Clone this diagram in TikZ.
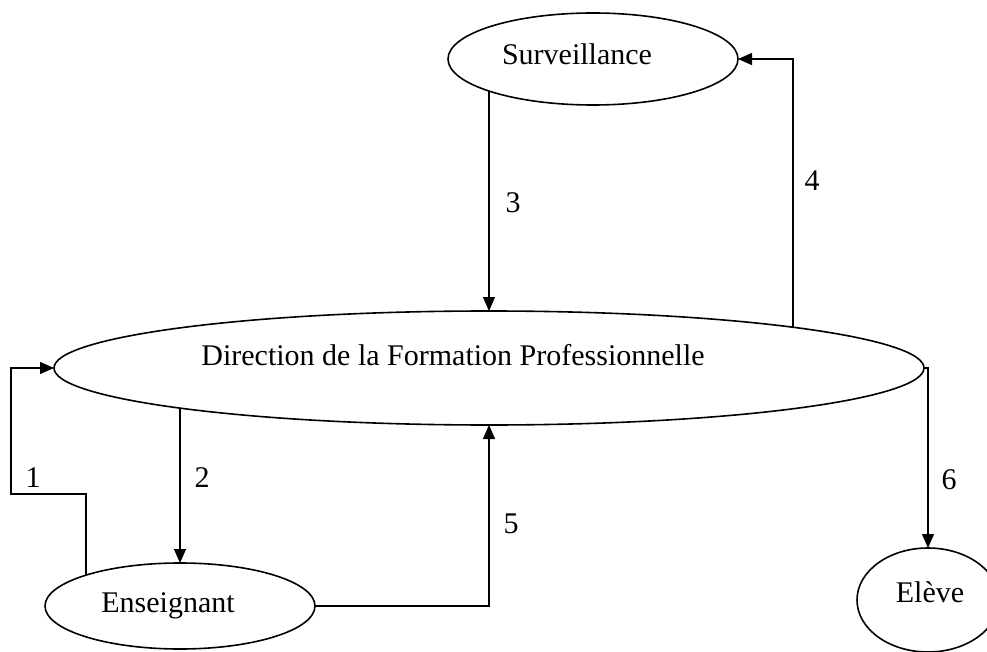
\documentclass[tikz,border=0pt]{standalone}
\usepackage{fontspec}
\setmainfont{Liberation Serif}
\usetikzlibrary{shapes.geometric,arrows.meta,calc}
\begin{document}
\begin{tikzpicture}[x=1pt,y=-1pt,
  entity/.style={ellipse,draw,line width=1.6pt,inner sep=0pt,outer sep=0pt},
  flow/.style={line width=1.3pt,-{Triangle[length=14pt,width=12pt]}},
  txt/.style={anchor=base,inner sep=0pt,font=\fontsize{30}{36}\selectfont},
]
\fill[white] (0,0) rectangle (987,652);
\useasboundingbox (0,0) rectangle (987,652);

% actors and the central service
\node[entity,minimum width=290pt,minimum height=92pt]  (sur) at (593,59)  {};
\node[entity,minimum width=870pt,minimum height=114pt] (dir) at (489,368) {};
\node[entity,minimum width=270pt,minimum height=86pt]  (ens) at (180,606) {};
\node[entity,minimum width=142pt,minimum height=104pt] (elv) at (928,600) {};

\node[txt] (surtxt) at (577,65)  {Surveillance};
\node[txt] (dirtxt) at (453,365) {Direction de la Formation Professionnelle};
\node[txt] (enstxt) at (168,612) {Enseignant};
\node[txt] (elvtxt) at (930,602) {Elève};

% information flows (start points lie exactly on the ellipse borders)
\coordinate (c1) at (11,494);
\draw[flow] ($(ens.center)+(-94,-30.9)$) |- (c1) |- (dir.west);
\draw[flow] ($(dir.center)+(-309,40.1)$) -- (ens.north);
\draw[flow] ($(sur.center)+(-104,32.1)$) -- (dir.north);
\draw[flow] ($(dir.center)+(304,-40.8)$) |- (sur.east);
\draw[flow] (ens.east) -| (dir.south);
\draw[flow] (dir.east) -| (elv.north);

% flow numbers
\node[txt] (n1) at (33,487)  {1};
\node[txt] (n2) at (202,487) {2};
\node[txt] (n3) at (513,213) {3};
\node[txt] (n4) at (812,191) {4};
\node[txt] (n5) at (511,533) {5};
\node[txt] (n6) at (949,489) {6};
\end{tikzpicture}
\end{document}
